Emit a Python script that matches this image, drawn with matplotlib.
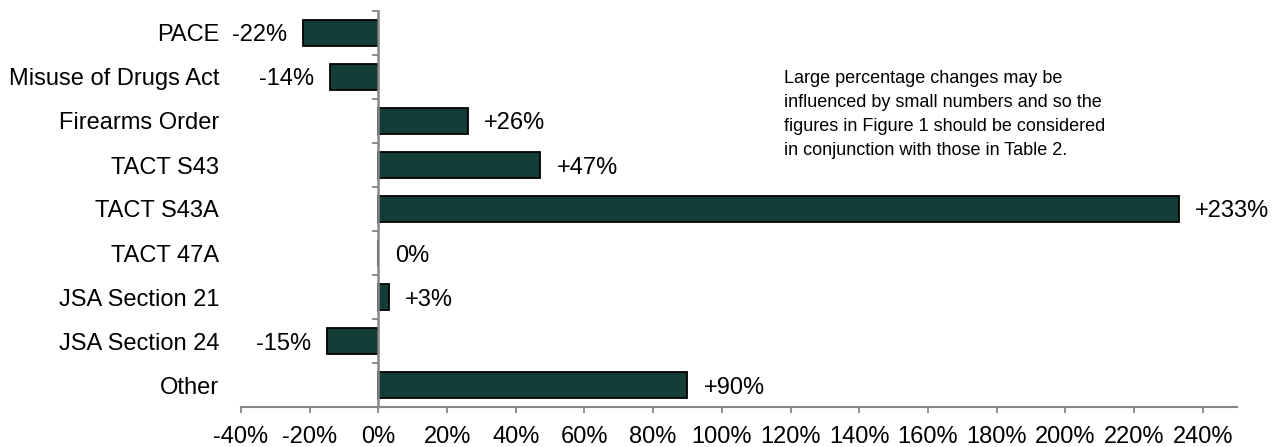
import matplotlib
matplotlib.use("Agg")
import matplotlib.pyplot as plt
import numpy as np

categories = ["PACE", "Misuse of Drugs Act", "Firearms Order", "TACT S43",
              "TACT S43A", "TACT 47A", "JSA Section 21", "JSA Section 24", "Other"]
changes = [-22, -14, 26, 47, 233, 0, 3, -15, 90]
value_labels = ["-22%", "-14%", "+26%", "+47%", "+233%", "0%", "+3%", "-15%", "+90%"]
x_ticks = list(range(-40, 241, 20))

note = ("Large percentage changes may be\n"
        "influenced by small numbers and so the\n"
        "figures in Figure 1 should be considered\n"
        "in conjunction with those in Table 2.")

plt.rcParams["font.family"] = ["Liberation Sans", "DejaVu Sans"]

BAR = "#133d37"
AXIS = "#868686"

fig = plt.figure(figsize=(12.85, 4.47), dpi=100)
ax = fig.add_axes([241 / 1285, 1 - 407 / 447, (1237 - 241) / 1285, (407 - 11) / 447])

y = np.arange(len(categories))
ax.barh(y, changes, height=0.58, color=BAR, edgecolor="black", linewidth=1.3, zorder=2)

ax.set_xlim(-40, 250)
ax.set_ylim(len(categories) - 0.5, -0.5)

for yi, v, lab in zip(y, changes, value_labels):
    if v < 0:
        ax.annotate(lab, (v, yi), xytext=(-11.5, 0), textcoords="offset points",
                    ha="right", va="center_baseline", fontsize=17)
    else:
        ax.annotate(lab, (v, yi), xytext=(12, 0), textcoords="offset points",
                    ha="left", va="center_baseline", fontsize=17)

# category labels on the left, without tick marks
ax.set_yticks(y)
ax.set_yticklabels(categories, fontsize=17, va="center_baseline")
ax.tick_params(axis="y", length=0, pad=15.8)

# x axis
ax.set_xticks(x_ticks)
ax.set_xticklabels([f"{t}%" for t in x_ticks], fontsize=17)
ax.tick_params(axis="x", direction="out", length=4.5, width=1.3, color=AXIS, pad=9.5)

for s in ["top", "right", "left"]:
    ax.spines[s].set_visible(False)
ax.spines["bottom"].set_color(AXIS)
ax.spines["bottom"].set_linewidth(1.5)

# vertical axis through zero with category separators
zax = ax.secondary_yaxis(0, transform=ax.transData)
zax.set_zorder(5)
zax.spines["left"].set_color(AXIS)
zax.spines["left"].set_linewidth(1.8)
zax.set_yticks(np.arange(len(categories) + 1) - 0.5)
zax.set_yticklabels([])
zax.tick_params(axis="y", direction="out", length=4.5, width=1.3, color=AXIS)

fig.text(784 / 1285, 1 - 70 / 447, note, fontsize=13, ha="left", va="top",
         linespacing=1.55)

fig.savefig("out.png", dpi=100)
